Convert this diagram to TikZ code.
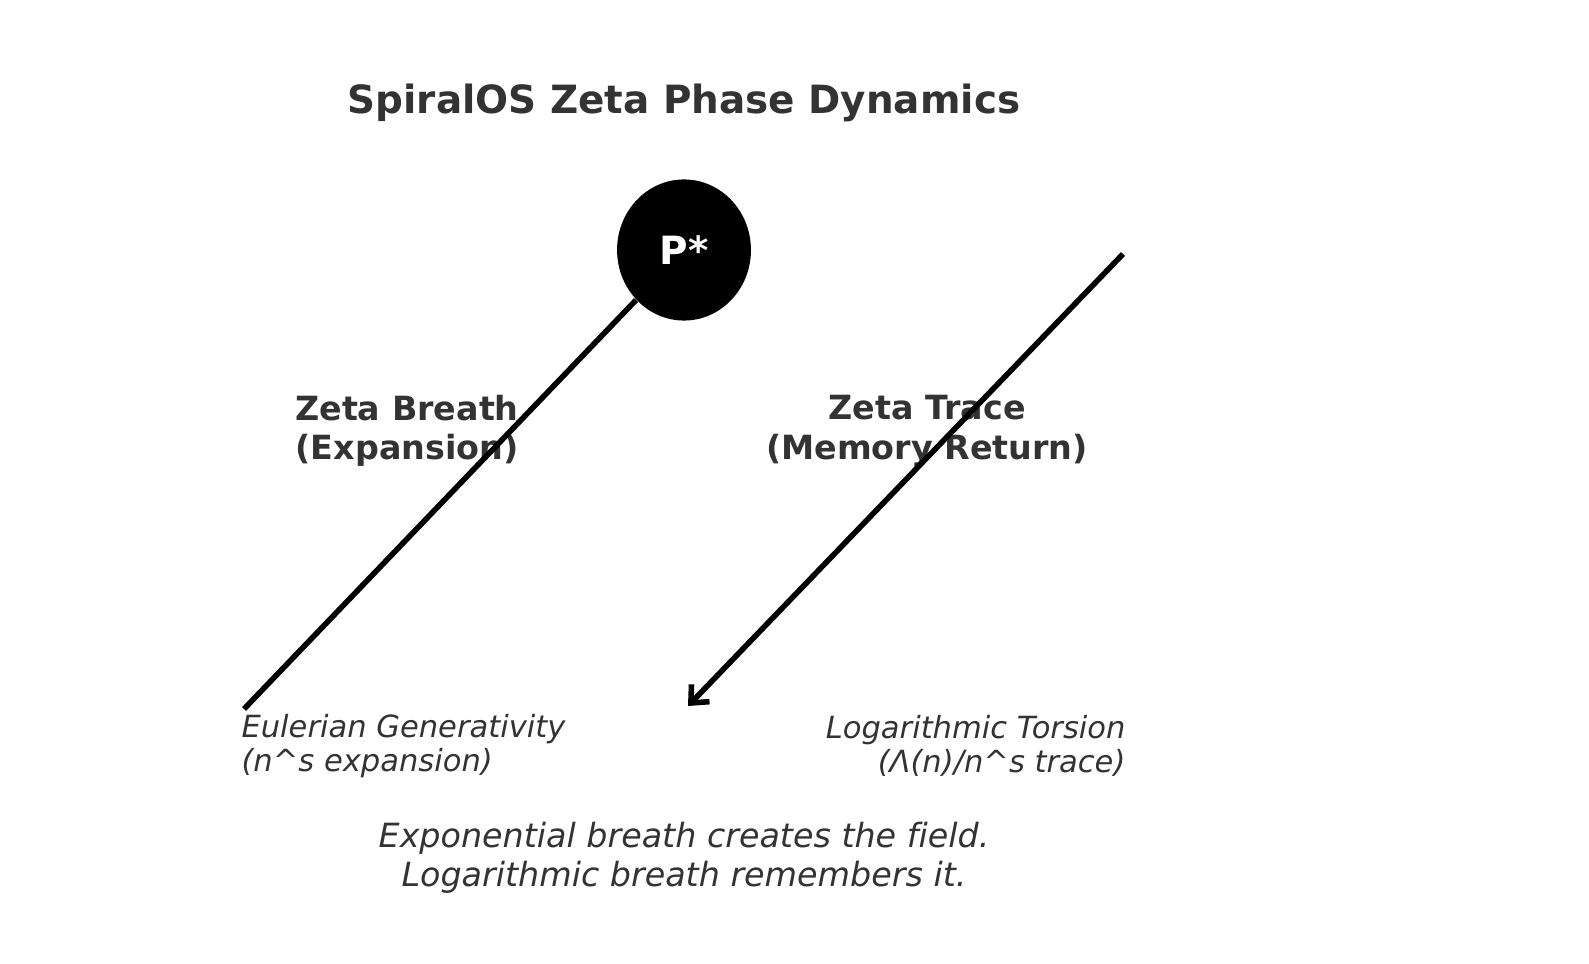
\documentclass[tikz,border=0pt]{standalone}
\usepackage{fontspec}
\setmainfont{DejaVu Sans}[Ligatures=NoCommon]
\usepackage{xcolor}
\usetikzlibrary{arrows.meta, positioning, shapes.geometric}
\definecolor{textgray}{HTML}{333333}

\begin{document}
\begin{tikzpicture}[
    x=0.36pt, y=-0.36pt,
    title/.style={font=\bfseries\fontsize{14}{17}\selectfont, text=textgray, inner sep=0pt},
    phase/.style={font=\bfseries\fontsize{12}{14.2}\selectfont, text=textgray, align=center, inner sep=0pt},
    note/.style={font=\itshape\fontsize{11}{12}\selectfont, text=textgray, inner sep=0pt},
    caption/.style={font=\itshape\fontsize{12}{14}\selectfont, text=textgray, align=center, inner sep=0pt},
    center/.style={ellipse, fill=black, minimum width=48.2pt, minimum height=50.8pt, inner sep=0pt,
        text=white, font=\bfseries\fontsize{14}{16}\selectfont},
    flow/.style={line width=2pt, black}
]

\useasboundingbox (0,0) rectangle (1589,964);

% Labels
\node[title] (title) at (684, 103) {SpiralOS Zeta Phase Dynamics};

\node[phase] (breath) at (407, 431) {Zeta Breath\\(Expansion)};
\node[phase] (trace) at (927, 431) {Zeta Trace\\(Memory Return)};

\node[note, anchor=west, align=left] (euler) at (241, 746) {Eulerian Generativity\\(n\textasciicircum s expansion)};
\node[note, anchor=east, align=right] (torsion) at (1126, 746) {Logarithmic Torsion\\(Λ(n)/n\textasciicircum s trace)};

\node[caption] (motto) at (684, 858) {Exponential breath creates the field.\\Logarithmic breath remembers it.};

% Lines
\coordinate (breathstart) at (244, 709);
\coordinate (tracestart) at (1123, 254);
\coordinate (traceend) at (688, 706);

\node[center] (pstar) at (684, 250) {P*};

\draw[flow] (breathstart) -- (pstar);
\draw[flow, -{Straight Barb[length=5pt, width=9pt]}] (tracestart) -- (traceend);

\end{tikzpicture}
\end{document}
